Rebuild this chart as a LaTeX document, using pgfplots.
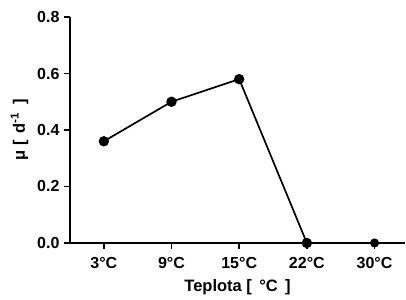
\documentclass[border=0pt]{standalone}
\usepackage{fontspec}
\setmainfont{Liberation Sans}
\usepackage{pgfplots}
\pgfplotsset{compat=1.18}
\begin{document}
\begin{tikzpicture}
\begin{axis}[
  scale only axis, width=335pt, height=226pt,
  xmin=-0.5, xmax=4.45, ymin=0, ymax=0.8,
  axis x line=bottom, axis y line=left,
  axis line style={-, line width=1.8pt},
  every tick/.style={black, line width=1.6pt},
  tick align=outside, major tick length=6pt,
  xtick={0,1,2,3,4},
  xticklabels={3°C,9°C,15°C,22°C,30°C},
  ytick={0,0.2,0.4,0.6,0.8},
  /pgf/number format/assume math mode=true,
  /pgf/number format/fixed,
  /pgf/number format/fixed zerofill,
  /pgf/number format/precision=1,
  tick label style={font=\bfseries\fontsize{16}{18}\selectfont},
  xticklabel style={yshift=-5pt},
  yticklabel style={xshift=-1pt},
  xlabel={Teplota [\, °C \,]},
  ylabel={μ [\, d\textsuperscript{-1} \,]},
  label style={font=\bfseries\fontsize{16.5}{18}\selectfont},
  xlabel style={yshift=-4pt},
  ylabel style={yshift=2pt},
  clip=false,
]
\addplot[black, line width=1.7pt, mark=*, mark size=4.3pt] coordinates {
  (0,0.36) (1,0.50) (2,0.58) (3,0)
};
\addplot[black, only marks, mark=*, mark size=4.3pt] coordinates {
  (4,0)
};
\end{axis}
\pgfresetboundingbox
\path ([shift={(-70pt,-57pt)}]current axis.south west) rectangle ([shift={(1pt,17pt)}]current axis.north east);
\end{tikzpicture}
\end{document}
